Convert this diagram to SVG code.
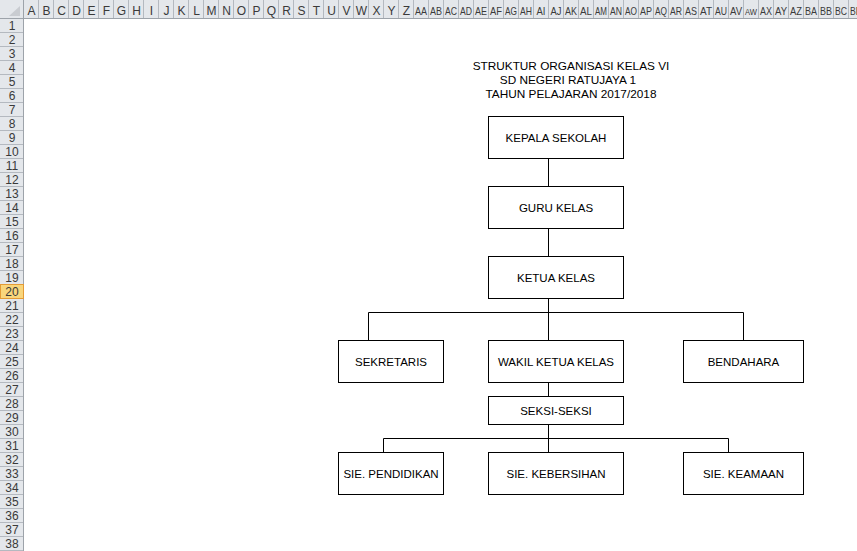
<svg xmlns="http://www.w3.org/2000/svg" width="857" height="551" viewBox="0 0 857 551">
<style>
.hdr{font-family:"Liberation Sans","DejaVu Sans",sans-serif;font-size:12px;fill:#3a3a3a;text-anchor:middle}
.hd2{font-family:"Liberation Sans","DejaVu Sans",sans-serif;font-size:11px;fill:#3a3a3a;text-anchor:middle}
.box{fill:#ffffff;stroke:#000000;stroke-width:1}
.lbl{font-family:"Liberation Sans","DejaVu Sans",sans-serif;font-size:11.5px;fill:#000000;text-anchor:middle}
.ttl{font-family:"Liberation Sans","DejaVu Sans",sans-serif;font-size:11.8px;fill:#000000;text-anchor:middle}
.con{fill:none;stroke:#000000;stroke-width:1}
</style>
<rect x="0" y="0" width="857" height="551" fill="#ffffff"/>
<g id="sheet-headers">
<rect x="0" y="0" width="857" height="19" fill="#e4e7eb"/>
<rect x="0" y="0" width="24" height="551" fill="#e4e7eb"/>
<polygon points="9,16 20,16 20,6" fill="#c9ccd1"/>
<path d="M23.5 0V551M0 18.5H857" stroke="#9da3aa" stroke-width="1" fill="none"/>
<path d="M38.5 0V18M53.5 0V18M68.5 0V18M83.5 0V18M98.5 0V18M113.5 0V18M128.5 0V18M143.5 0V18M158.5 0V18M173.5 0V18M188.5 0V18M203.5 0V18M218.5 0V18M233.5 0V18M248.5 0V18M263.5 0V18M278.5 0V18M293.5 0V18M308.5 0V18M323.5 0V18M338.5 0V18M353.5 0V18M368.5 0V18M383.5 0V18M398.5 0V18M413.5 0V18M428.5 0V18M443.5 0V18M458.5 0V18M473.5 0V18M488.5 0V18M503.5 0V18M518.5 0V18M533.5 0V18M548.5 0V18M563.5 0V18M578.5 0V18M593.5 0V18M608.5 0V18M623.5 0V18M638.5 0V18M653.5 0V18M668.5 0V18M683.5 0V18M698.5 0V18M713.5 0V18M728.5 0V18M743.5 0V18M758.5 0V18M773.5 0V18M788.5 0V18M803.5 0V18M818.5 0V18M833.5 0V18M848.5 0V18" stroke="#b4b9c0" stroke-width="1" fill="none"/>
<path d="M0 32.5H23M0 46.5H23M0 60.5H23M0 74.5H23M0 88.5H23M0 102.5H23M0 116.5H23M0 130.5H23M0 144.5H23M0 158.5H23M0 172.5H23M0 186.5H23M0 200.5H23M0 214.5H23M0 228.5H23M0 242.5H23M0 256.5H23M0 270.5H23M0 284.5H23M0 298.5H23M0 312.5H23M0 326.5H23M0 340.5H23M0 354.5H23M0 368.5H23M0 382.5H23M0 396.5H23M0 410.5H23M0 424.5H23M0 438.5H23M0 452.5H23M0 466.5H23M0 480.5H23M0 494.5H23M0 508.5H23M0 522.5H23M0 536.5H23M0 550.5H23" stroke="#b4b9c0" stroke-width="1" fill="none"/>
<rect x="0.5" y="284.5" width="23" height="14" fill="#f9d67c" stroke="#e49b35" stroke-width="1"/>
<text class="hdr" x="31.5" y="15">A</text>
<text class="hdr" x="46.5" y="15">B</text>
<text class="hdr" x="61.5" y="15">C</text>
<text class="hdr" x="76.5" y="15">D</text>
<text class="hdr" x="91.5" y="15">E</text>
<text class="hdr" x="106.5" y="15">F</text>
<text class="hdr" x="121.5" y="15">G</text>
<text class="hdr" x="136.5" y="15">H</text>
<text class="hdr" x="151.5" y="15">I</text>
<text class="hdr" x="166.5" y="15">J</text>
<text class="hdr" x="181.5" y="15">K</text>
<text class="hdr" x="196.5" y="15">L</text>
<text class="hdr" x="211.5" y="15">M</text>
<text class="hdr" x="226.5" y="15">N</text>
<text class="hdr" x="241.5" y="15">O</text>
<text class="hdr" x="256.5" y="15">P</text>
<text class="hdr" x="271.5" y="15">Q</text>
<text class="hdr" x="286.5" y="15">R</text>
<text class="hdr" x="301.5" y="15">S</text>
<text class="hdr" x="316.5" y="15">T</text>
<text class="hdr" x="331.5" y="15">U</text>
<text class="hdr" x="346.5" y="15">V</text>
<text class="hdr" x="361.5" y="15">W</text>
<text class="hdr" x="376.5" y="15">X</text>
<text class="hdr" x="391.5" y="15">Y</text>
<text class="hdr" x="406.5" y="15">Z</text>
<text class="hd2" x="421" y="15" textLength="12" lengthAdjust="spacingAndGlyphs">AA</text>
<text class="hd2" x="436" y="15" textLength="12" lengthAdjust="spacingAndGlyphs">AB</text>
<text class="hd2" x="451" y="15" textLength="12" lengthAdjust="spacingAndGlyphs">AC</text>
<text class="hd2" x="466" y="15" textLength="12" lengthAdjust="spacingAndGlyphs">AD</text>
<text class="hd2" x="481" y="15" textLength="12" lengthAdjust="spacingAndGlyphs">AE</text>
<text class="hd2" x="496" y="15" textLength="12" lengthAdjust="spacingAndGlyphs">AF</text>
<text class="hd2" x="511" y="15" textLength="12" lengthAdjust="spacingAndGlyphs">AG</text>
<text class="hd2" x="526" y="15" textLength="12" lengthAdjust="spacingAndGlyphs">AH</text>
<text class="hd2" x="541" y="15" textLength="9" lengthAdjust="spacingAndGlyphs">AI</text>
<text class="hd2" x="556" y="15" textLength="11" lengthAdjust="spacingAndGlyphs">AJ</text>
<text class="hd2" x="571" y="15" textLength="12" lengthAdjust="spacingAndGlyphs">AK</text>
<text class="hd2" x="586" y="15" textLength="12" lengthAdjust="spacingAndGlyphs">AL</text>
<text class="hd2" x="601" y="15" textLength="12" lengthAdjust="spacingAndGlyphs">AM</text>
<text class="hd2" x="616" y="15" textLength="12" lengthAdjust="spacingAndGlyphs">AN</text>
<text class="hd2" x="631" y="15" textLength="12" lengthAdjust="spacingAndGlyphs">AO</text>
<text class="hd2" x="646" y="15" textLength="12" lengthAdjust="spacingAndGlyphs">AP</text>
<text class="hd2" x="661" y="15" textLength="12" lengthAdjust="spacingAndGlyphs">AQ</text>
<text class="hd2" x="676" y="15" textLength="12" lengthAdjust="spacingAndGlyphs">AR</text>
<text class="hd2" x="691" y="15" textLength="12" lengthAdjust="spacingAndGlyphs">AS</text>
<text class="hd2" x="706" y="15" textLength="12" lengthAdjust="spacingAndGlyphs">AT</text>
<text class="hd2" x="721" y="15" textLength="12" lengthAdjust="spacingAndGlyphs">AU</text>
<text class="hd2" x="736" y="15" textLength="12" lengthAdjust="spacingAndGlyphs">AV</text>
<text class="hd2" x="751" y="15" textLength="12" lengthAdjust="spacingAndGlyphs" style="font-size:9.5px">AW</text>
<text class="hd2" x="766" y="15" textLength="12" lengthAdjust="spacingAndGlyphs">AX</text>
<text class="hd2" x="781" y="15" textLength="12" lengthAdjust="spacingAndGlyphs">AY</text>
<text class="hd2" x="796" y="15" textLength="12" lengthAdjust="spacingAndGlyphs">AZ</text>
<text class="hd2" x="811" y="15" textLength="12" lengthAdjust="spacingAndGlyphs">BA</text>
<text class="hd2" x="826" y="15" textLength="12" lengthAdjust="spacingAndGlyphs">BB</text>
<text class="hd2" x="841" y="15" textLength="12" lengthAdjust="spacingAndGlyphs">BC</text>
<svg x="849" y="0" width="8" height="18"><text class="hd2" x="7" y="15" textLength="12" lengthAdjust="spacingAndGlyphs">BD</text></svg>
<text class="hdr" x="12" y="30">1</text>
<text class="hdr" x="12" y="44">2</text>
<text class="hdr" x="12" y="58">3</text>
<text class="hdr" x="12" y="72">4</text>
<text class="hdr" x="12" y="86">5</text>
<text class="hdr" x="12" y="100">6</text>
<text class="hdr" x="12" y="114">7</text>
<text class="hdr" x="12" y="128">8</text>
<text class="hdr" x="12" y="142">9</text>
<text class="hdr" x="12" y="156">10</text>
<text class="hdr" x="12" y="170">11</text>
<text class="hdr" x="12" y="184">12</text>
<text class="hdr" x="12" y="198">13</text>
<text class="hdr" x="12" y="212">14</text>
<text class="hdr" x="12" y="226">15</text>
<text class="hdr" x="12" y="240">16</text>
<text class="hdr" x="12" y="254">17</text>
<text class="hdr" x="12" y="268">18</text>
<text class="hdr" x="12" y="282">19</text>
<text class="hdr" x="12" y="296">20</text>
<text class="hdr" x="12" y="310">21</text>
<text class="hdr" x="12" y="324">22</text>
<text class="hdr" x="12" y="338">23</text>
<text class="hdr" x="12" y="352">24</text>
<text class="hdr" x="12" y="366">25</text>
<text class="hdr" x="12" y="380">26</text>
<text class="hdr" x="12" y="394">27</text>
<text class="hdr" x="12" y="408">28</text>
<text class="hdr" x="12" y="422">29</text>
<text class="hdr" x="12" y="436">30</text>
<text class="hdr" x="12" y="450">31</text>
<text class="hdr" x="12" y="464">32</text>
<text class="hdr" x="12" y="478">33</text>
<text class="hdr" x="12" y="492">34</text>
<text class="hdr" x="12" y="506">35</text>
<text class="hdr" x="12" y="520">36</text>
<text class="hdr" x="12" y="534">37</text>
<text class="hdr" x="12" y="548">38</text>
</g>
<g id="title">
<text class="ttl" x="571" y="70">STRUKTUR ORGANISASI KELAS VI</text>
<text class="ttl" x="568" y="84">SD NEGERI RATUJAYA 1</text>
<text class="ttl" x="571" y="98">TAHUN PELAJARAN 2017/2018</text>
</g>
<g id="connectors">
<path class="con" d="M548.5 158.5V186.5M548.5 228.5V256.5M548.5 298.5V340.5M368.5 312.5H743.5M368.5 312.5V340.5M743.5 312.5V340.5M548.5 382.5V396.5M548.5 424.5V452.5M383.5 438.5H728.5M383.5 438.5V452.5M728.5 438.5V452.5"/>
</g>
<g id="kepala-sekolah"><rect class="box" x="488.5" y="116.5" width="135" height="42"/><text class="lbl" x="556" y="142">KEPALA SEKOLAH</text></g>
<g id="guru-kelas"><rect class="box" x="488.5" y="186.5" width="135" height="42"/><text class="lbl" x="556" y="212">GURU KELAS</text></g>
<g id="ketua-kelas"><rect class="box" x="488.5" y="256.5" width="135" height="42"/><text class="lbl" x="556" y="282">KETUA KELAS</text></g>
<g id="sekretaris"><rect class="box" x="338.5" y="340.5" width="105" height="42"/><text class="lbl" x="391" y="366">SEKRETARIS</text></g>
<g id="wakil-ketua-kelas"><rect class="box" x="488.5" y="340.5" width="135" height="42"/><text class="lbl" x="556" y="366">WAKIL KETUA KELAS</text></g>
<g id="bendahara"><rect class="box" x="683.5" y="340.5" width="120" height="42"/><text class="lbl" x="743.5" y="366">BENDAHARA</text></g>
<g id="seksi-seksi"><rect class="box" x="488.5" y="396.5" width="135" height="28"/><text class="lbl" x="556" y="415">SEKSI-SEKSI</text></g>
<g id="sie-pendidikan"><rect class="box" x="338.5" y="452.5" width="105" height="42"/><text class="lbl" x="391" y="478">SIE. PENDIDIKAN</text></g>
<g id="sie-kebersihan"><rect class="box" x="488.5" y="452.5" width="135" height="42"/><text class="lbl" x="556" y="478">SIE. KEBERSIHAN</text></g>
<g id="sie-keamaan"><rect class="box" x="683.5" y="452.5" width="120" height="42"/><text class="lbl" x="743.5" y="478">SIE. KEAMAAN</text></g>
</svg>
